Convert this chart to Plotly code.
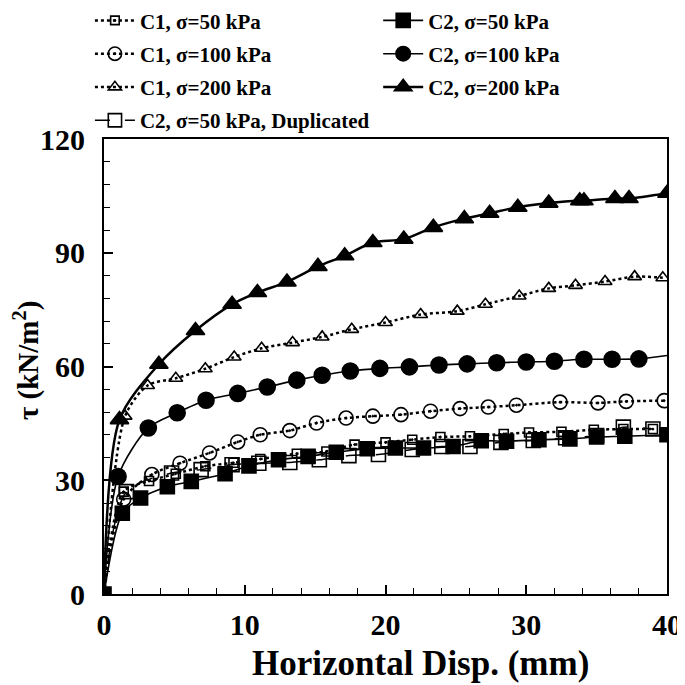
import plotly.graph_objects as go

# ---- data ----
c1_50_x = [0, 1.4, 3.2, 5.1, 7.2, 9.2, 11.1, 13.7, 15.8, 17.8, 20.0, 21.9, 23.9, 26.0, 28.4, 30.2, 32.5, 34.8, 36.9, 39.0]
c1_50_y = [0, 27.0, 29.8, 31.7, 33.7, 34.6, 35.6, 37.0, 37.6, 39.4, 40.0, 40.7, 41.4, 41.6, 42.2, 42.6, 42.8, 43.3, 43.5, 43.5]

c2_50_x = [0, 1.3, 2.6, 4.5, 6.2, 8.6, 10.3, 12.4, 14.5, 16.5, 18.7, 20.7, 22.7, 24.8, 26.8, 28.6, 30.9, 33.1, 35.0, 37.0, 40.0]
c2_50_y = [0, 21.3, 25.3, 28.3, 29.7, 31.7, 33.8, 35.4, 36.3, 37.4, 38.3, 38.5, 38.5, 38.9, 40.4, 40.3, 40.7, 40.9, 41.4, 41.6, 42.0]

c1_100_x = [0, 1.4, 3.4, 5.4, 7.5, 9.5, 11.1, 13.2, 15.1, 17.2, 19.1, 21.1, 23.2, 25.3, 27.3, 29.3, 32.4, 35.1, 37.1, 39.8]
c1_100_y = [0, 25.0, 31.5, 34.5, 37.2, 40.1, 42.0, 43.1, 45.1, 46.4, 46.9, 47.3, 48.2, 48.9, 49.3, 49.8, 50.6, 50.4, 50.8, 51.0]

c2_100_x = [0, 1.0, 3.15, 5.2, 7.25, 9.5, 11.6, 13.7, 15.5, 17.5, 19.6, 21.7, 23.8, 25.8, 27.9, 30.0, 32.0, 34.1, 36.1, 38.0, 40.0]
c2_100_y = [0, 31.0, 43.8, 47.8, 51.1, 52.9, 54.6, 56.4, 57.7, 58.8, 59.5, 59.9, 60.4, 60.7, 61.0, 61.2, 61.4, 61.9, 61.9, 62.0, 62.9]

c1_200_x = [0, 1.5, 3.1, 5.1, 7.2, 9.25, 11.2, 13.4, 15.5, 17.6, 20.0, 22.5, 25.1, 27.1, 29.5, 31.6, 33.5, 35.6, 37.7, 39.7]
c1_200_y = [0, 46.9, 55.0, 56.9, 59.4, 62.5, 64.8, 66.3, 67.8, 69.8, 71.6, 73.7, 74.6, 76.4, 78.6, 80.6, 81.4, 82.4, 83.7, 83.4]

c2_200_x = [0, 1.1, 3.9, 6.5, 9.1, 10.9, 13.0, 15.2, 17.1, 19.1, 21.3, 23.4, 25.6, 27.4, 29.4, 31.6, 33.8, 34.1, 36.3, 37.3, 40.0]
c2_200_y = [0, 46.0, 60.6, 69.5, 76.4, 79.5, 82.3, 86.4, 89.2, 92.7, 93.6, 96.7, 99.0, 100.4, 102.0, 103.1, 103.7, 103.7, 104.3, 104.3, 105.7]

c2_dup_x = [0, 1.6, 4.8, 6.9, 9.1, 11.0, 13.2, 15.3, 17.4, 19.5, 21.9, 24.0, 26.0, 28.2, 30.5, 32.8, 35.0, 36.9, 39.0]
c2_dup_y = [0, 27.0, 31.9, 32.8, 34.1, 34.5, 34.7, 35.4, 36.5, 36.8, 38.1, 38.9, 38.9, 40.0, 40.5, 41.2, 41.8, 44.0, 43.5]

names = {
    "c1_50": "C1, σ=50 kPa",
    "c2_50": "C2, σ=50 kPa",
    "c1_100": "C1, σ=100 kPa",
    "c2_100": "C2, σ=100 kPa",
    "c1_200": "C1, σ=200 kPa",
    "c2_200": "C2, σ=200 kPa",
    "c2_dup": "C2, σ=50 kPa, Duplicated",
}
x_title = "Horizontal Disp. (mm)"
y_title = "τ (kN/m<sup>2</sup>)"

FONT = "Liberation Serif"
BLACK = "black"


def sizes(n, s, hide_first=True, hide_last=False):
    arr = [s] * n
    if hide_first:
        arr[0] = 0
    if hide_last:
        arr[-1] = 0
    return arr


fig = go.Figure()


def add(x, y, key, symbol, size, dash, width, legend, hide_first=True, hide_last=False):
    fig.add_trace(go.Scatter(
        x=x, y=y, name=names[key], mode="lines+markers",
        line=dict(color=BLACK, width=width, dash=dash, shape="spline", smoothing=0.8),
        marker=dict(symbol=symbol, size=sizes(len(x), size, hide_first, hide_last),
                    color=BLACK, opacity=1,
                    line=dict(color=BLACK, width=1.6)),
        legend=legend, legendgroup=key,
    ))


# column 1 legend
add(c1_200_x, c1_200_y, "c1_200", "triangle-up-open", 12, "dot", 2.5, "legend")
add(c1_100_x, c1_100_y, "c1_100", "circle-open-dot", 14, "dot", 2.5, "legend")
add(c2_dup_x, c2_dup_y, "c2_dup", "square-open", 14, "longdash", 1.5, "legend")
add(c1_50_x, c1_50_y, "c1_50", "square-open-dot", 9, "dot", 2.5, "legend")
# column 2 legend
add(c2_200_x, c2_200_y, "c2_200", "triangle-up", 16, "solid", 2.5, "legend2")
add(c2_100_x, c2_100_y, "c2_100", "circle", 16, "solid", 1.6, "legend2", hide_last=True)
add(c2_50_x, c2_50_y, "c2_50", "square", 14, "solid", 1.6, "legend2", hide_first=False)

order1 = ["c1_50", "c1_100", "c1_200", "c2_dup"]
order2 = ["c2_50", "c2_100", "c2_200"]
for tr in fig.data:
    if tr.legendgroup in order1:
        tr.legendrank = order1.index(tr.legendgroup) + 1
    else:
        tr.legendrank = order2.index(tr.legendgroup) + 1

leg_font = dict(family=FONT, size=21, color=BLACK, weight="bold")
tick_font = dict(family=FONT, size=30, color=BLACK, weight="bold")

W = 677
fig.update_layout(
    width=W, height=W,
    margin=dict(l=96, r=18, t=131, b=91, autoexpand=False),
    paper_bgcolor="white", plot_bgcolor="white",
    font=dict(family=FONT, color=BLACK, weight="bold"),
    legend=dict(x=-0.025, y=1.305, xanchor="left", yanchor="top", orientation="v",
                font=leg_font, tracegroupgap=3, bgcolor="rgba(0,0,0,0)",
                itemwidth=40, traceorder="grouped"),
    legend2=dict(x=0.487, y=1.305, xanchor="left", yanchor="top", orientation="v",
                 font=leg_font, tracegroupgap=3, bgcolor="rgba(0,0,0,0)",
                 itemwidth=40, traceorder="grouped"),
    xaxis=dict(
        range=[0, 40], dtick=10, tick0=0,
        ticks="inside", ticklen=9, tickwidth=1.6, tickcolor=BLACK,
        minor=dict(dtick=2, ticks="inside", ticklen=6, tickwidth=1.2, tickcolor=BLACK),
        showline=True, linecolor=BLACK, linewidth=2, mirror=True,
        showgrid=False, zeroline=False,
        tickfont=tick_font, ticklabelstandoff=3,
    ),
    yaxis=dict(
        range=[0, 120], dtick=30, tick0=0,
        ticks="inside", ticklen=9, tickwidth=1.6, tickcolor=BLACK,
        minor=dict(dtick=6, ticks="inside", ticklen=6, tickwidth=1.2, tickcolor=BLACK),
        showline=True, linecolor=BLACK, linewidth=2, mirror=True,
        showgrid=False, zeroline=False,
        tickfont=tick_font, ticklabelstandoff=11,
    ),
    annotations=[
        dict(text=x_title, xref="paper", yref="paper", x=0.563, y=0, yshift=-69,
             xanchor="center", yanchor="middle", showarrow=False,
             font=dict(family=FONT, size=35, color=BLACK, weight="bold")),
        dict(text=y_title, xref="paper", yref="paper", x=0, y=0.512, xshift=-78,
             xanchor="center", yanchor="middle", showarrow=False, textangle=-90,
             font=dict(family=FONT, size=29, color=BLACK, weight="bold")),
    ],
)

fig.write_html("out.html")
